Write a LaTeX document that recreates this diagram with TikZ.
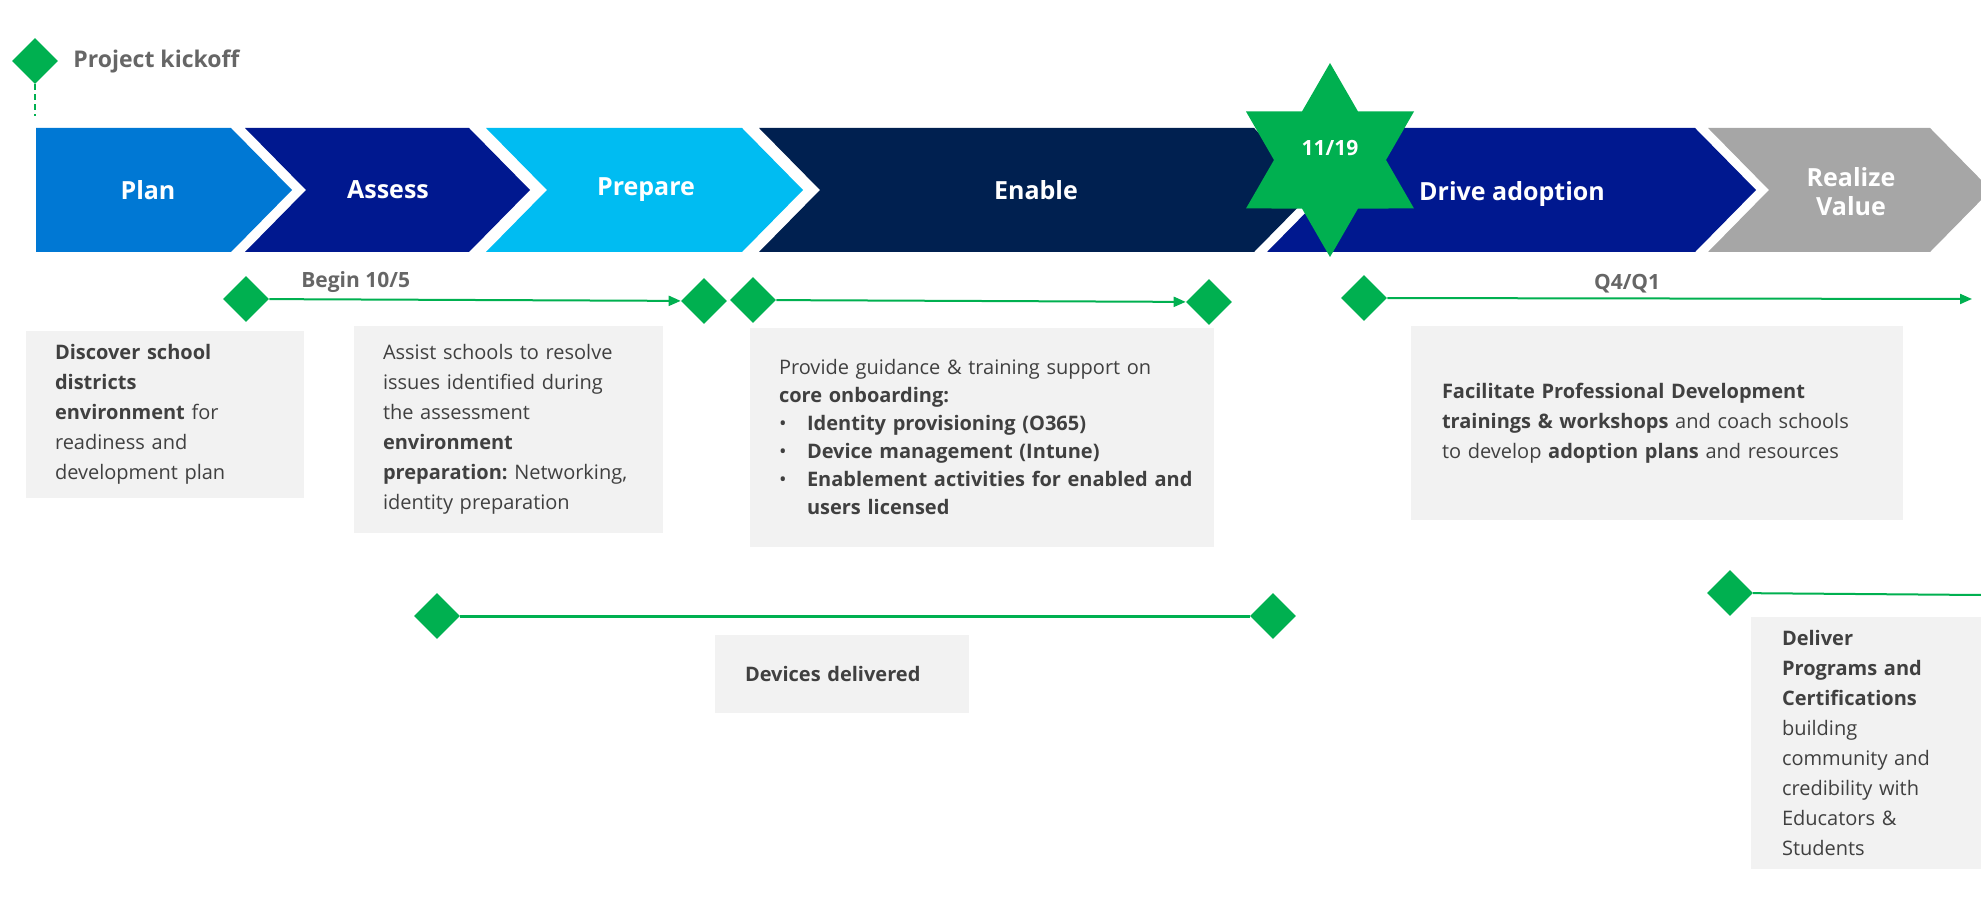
\documentclass[tikz,border=0pt]{standalone}
\usepackage{fontspec}
\setmainfont{Open Sans}
\usetikzlibrary{shapes.geometric,arrows.meta,positioning}
\definecolor{planblue}{HTML}{0078D4}
\definecolor{assessblue}{HTML}{00188F}
\definecolor{prepcyan}{HTML}{00BCF2}
\definecolor{enablenavy}{HTML}{002050}
\definecolor{realgray}{HTML}{A6A6A6}
\definecolor{msgreen}{HTML}{00B050}
\definecolor{boxgray}{HTML}{F2F2F2}
\definecolor{bodytext}{HTML}{404040}
\definecolor{labelgray}{HTML}{666666}
\hyphenpenalty=10000
\frenchspacing

\begin{document}
\begin{tikzpicture}[x=0.5pt,y=-0.5pt,
  mile/.style={diamond, fill=msgreen, inner sep=0pt, minimum width=23pt, minimum height=23pt},
  hdr/.style={text=white, align=center, font=\fontsize{12.5pt}{14.5pt}\selectfont\bfseries},
  gbox/.style={fill=boxgray, align=left, text=bodytext, inner ysep=0pt, font=\fontsize{10pt}{15pt}\selectfont},
  tag/.style={text=labelgray, font=\fontsize{10.5pt}{12pt}\selectfont\bfseries},
  gline/.style={draw=msgreen, line width=1pt},
  tip/.style={-{Triangle[length=6pt,width=5pt]}}]
\useasboundingbox (0,0) rectangle (1981,903);

% phase chevrons
\fill[planblue] (36,128) -- (231,128) -- (292,190) -- (231,252) -- (36,252) -- cycle;
\foreach \l/\r/\c in {245/469/assessblue, 486/742/prepcyan, 759/1254/enablenavy, 1267/1695/assessblue, 1708/1930/realgray}
  \fill[\c] (\l,128) -- (\r,128) -- (\r+61,190) -- (\r,252) -- (\l,252) -- (\l+61,190) -- cycle;

\node[hdr] (plan) at (148,190) {Plan};
\node[hdr] (assess) at (388,190) {Assess};
\node[hdr] (prepare) at (646,190) {Prepare};
\node[hdr] (enable) at (1036,190) {Enable};
\node[hdr] (drive) at (1512,194) {Drive adoption};
\node[hdr] (realize) at (1851,192) {Realize\\Value};

% go-live star
\node[star, star points=6, star point ratio=1.732, minimum size=97pt, inner sep=0pt, fill=msgreen] (golive) at (1330,160) {};
\node[text=white, font=\fontsize{10.5pt}{12pt}\selectfont\bfseries] (golivedate) at (1330,148) {11/19};

% milestones
\node[mile] (kick) at (35,61) {};
\node[tag, font=\fontsize{11.5pt}{12pt}\selectfont\bfseries, right=4pt of kick] (kicklbl) {Project kickoff};
\coordinate (kickend) at (35,116);
\draw[msgreen, line width=1pt, dash pattern=on 3pt off 2pt] (kick) -- (kickend);

\node[mile] (begin) at (246,299) {};
\node[mile] (assessend) at (704,301) {};
\node[mile] (enablestart) at (753,300) {};
\node[mile] (enableend) at (1209,302) {};
\node[mile] (adopt) at (1364,298) {};
\coordinate (adoptend) at (1972,299);
\node[mile] (devstart) at (437,616) {};
\node[mile] (devend) at (1273,616) {};
\node[mile] (progs) at (1730,593) {};
\coordinate (progsend) at (1981,595);

\draw[gline, tip] (begin) -- (assessend) node[tag, above=-0.5pt, pos=0.21] {Begin 10/5};
\draw[gline, tip] (enablestart) -- (enableend);
\draw[gline, tip] (adopt) -- (adoptend) node[tag, above=-1pt, pos=0.41] {Q4/Q1};
\draw[gline, line width=1.5pt] (devstart) -- (devend);
\draw[gline] (progs) -- (progsend);

% activity boxes
\node[gbox, text width=110pt, inner xsep=14.5pt, minimum height=83.5pt] (discover) at (165,414.5)
  {\textbf{Discover school}\\\textbf{districts}\\\textbf{environment} for\\readiness and\\development plan};
\node[gbox, text width=125.5pt, inner xsep=14.5pt, minimum height=103.5pt] (assist) at (508.5,429.5)
  {Assist schools to resolve\\issues identified during\\the assessment\\\textbf{environment}\\\textbf{preparation:} Networking,\\identity preparation};
\node[gbox, text width=203pt, inner xsep=14.5pt, minimum height=109.5pt, font=\fontsize{10pt}{14pt}\selectfont] (onboard) at (982,437.5)
  {Provide guidance \& training support on\\\textbf{core onboarding:}\\
   \makebox[14pt][l]{\textbullet}\textbf{Identity provisioning (O365)}\\
   \makebox[14pt][l]{\textbullet}\textbf{Device management (Intune)}\\
   \makebox[14pt][l]{\textbullet}\mbox{\textbf{Enablement activities for enabled and}}\\
   \hspace*{14pt}\textbf{users licensed}};
\node[gbox, text width=215pt, inner xsep=15.5pt, minimum height=97pt] (coach) at (1657,423)
  {\textbf{Facilitate Professional Development}\\\textbf{trainings \& workshops} and coach schools\\to develop \textbf{adoption plans} and resources};
\node[gbox, text width=97pt, inner xsep=15pt, minimum height=39pt] (devices) at (842,674)
  {\textbf{Devices delivered}};
\node[gbox, text width=89pt, inner xsep=15.5pt, minimum height=126pt] (programs) at (1871,743)
  {\textbf{Deliver}\\\textbf{Programs and}\\\textbf{Certifications}\\building\\community and\\credibility with\\Educators \&\\Students};
\end{tikzpicture}
\end{document}
